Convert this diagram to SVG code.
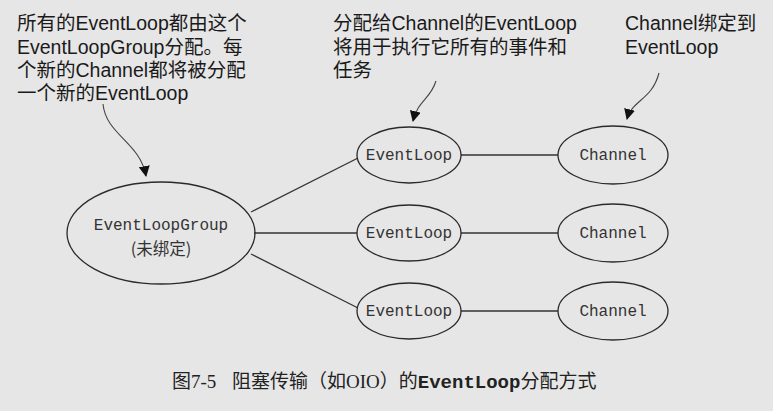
<svg xmlns="http://www.w3.org/2000/svg" width="773" height="411" viewBox="0 0 773 411">
<style>
.bg{fill:#e6e6e6}
.ann{font-family:"Liberation Sans","Noto Sans CJK SC",sans-serif;font-size:19.5px;fill:#1a1a1a}
.node{fill:none;stroke:#2a2a2a;stroke-width:1.3}
.mono{font-family:"Liberation Mono","Noto Sans CJK SC",monospace;font-size:16px;fill:#333;text-anchor:middle}
.cjk{font-family:"Noto Sans CJK SC",sans-serif;font-size:16.5px;fill:#333;text-anchor:middle}
.edge{fill:none;stroke:#333;stroke-width:1.3}
.ptr{fill:none;stroke:#444;stroke-width:1.1}
.cap{font-family:"Liberation Serif","Noto Sans CJK SC",serif;font-size:19px;fill:#222}
.capm{font-family:"Liberation Mono",monospace;font-weight:bold}
</style>
<defs>
<marker id="ah" viewBox="0 0 10 10" refX="9" refY="5" markerWidth="11" markerHeight="11" markerUnits="userSpaceOnUse" orient="auto">
<path d="M0,0 L10,5 L0,10 Z" fill="#111"/>
</marker>
</defs>
<rect class="bg" x="0" y="0" width="773" height="411"/>

<g id="note-group" class="ann">
<text x="17" y="30">所有的EventLoop都由这个</text>
<text x="17" y="54">EventLoopGroup分配。每</text>
<text x="17" y="77">个新的Channel都将被分配</text>
<text x="17" y="100">一个新的EventLoop</text>
</g>
<g id="note-eventloop" class="ann">
<text x="333" y="30">分配给Channel的EventLoop</text>
<text x="333" y="54">将用于执行它所有的事件和</text>
<text x="333" y="77">任务</text>
</g>
<g id="note-channel" class="ann">
<text x="625" y="30">Channel绑定到</text>
<text x="625" y="54">EventLoop</text>
</g>

<g id="connectors">
<line class="edge" x1="251" y1="212" x2="358" y2="158"/>
<line class="edge" x1="254" y1="233" x2="357" y2="233"/>
<line class="edge" x1="251" y1="254" x2="358" y2="308"/>
<line class="edge" x1="461" y1="155" x2="558" y2="155"/>
<line class="edge" x1="461" y1="233" x2="558" y2="233"/>
<line class="edge" x1="461" y1="311" x2="558" y2="311"/>
<path class="ptr" d="M103,104 C106,135 140,142 146,176" marker-end="url(#ah)"/>
<path class="ptr" d="M436,81 C430,100 418,100 413,121" marker-end="url(#ah)"/>
<path class="ptr" d="M659,73 C652,100 632,100 627,119" marker-end="url(#ah)"/>
</g>

<g id="eventloopgroup">
<ellipse class="node" cx="161" cy="233" rx="94" ry="51"/>
<text class="mono" x="161" y="230">EventLoopGroup</text>
<text class="cjk" x="161" y="255">(未绑定)</text>
</g>
<g id="eventloop1">
<ellipse class="node" cx="409" cy="155" rx="52" ry="28"/>
<text class="mono" x="409" y="160">EventLoop</text>
</g>
<g id="eventloop2">
<ellipse class="node" cx="409" cy="233" rx="52" ry="28"/>
<text class="mono" x="409" y="238">EventLoop</text>
</g>
<g id="eventloop3">
<ellipse class="node" cx="409" cy="311" rx="52" ry="28"/>
<text class="mono" x="409" y="316">EventLoop</text>
</g>
<g id="channel1">
<ellipse class="node" cx="613" cy="155" rx="55" ry="29"/>
<text class="mono" x="613" y="160">Channel</text>
</g>
<g id="channel2">
<ellipse class="node" cx="613" cy="233" rx="55" ry="29"/>
<text class="mono" x="613" y="238">Channel</text>
</g>
<g id="channel3">
<ellipse class="node" cx="613" cy="311" rx="55" ry="29"/>
<text class="mono" x="613" y="316">Channel</text>
</g>

<g id="caption" class="cap">
<text x="172" y="388">图7-5<tspan x="232">阻塞传输（如OIO）的</tspan><tspan class="capm">EventLoop</tspan>分配方式</text>
</g>
</svg>
